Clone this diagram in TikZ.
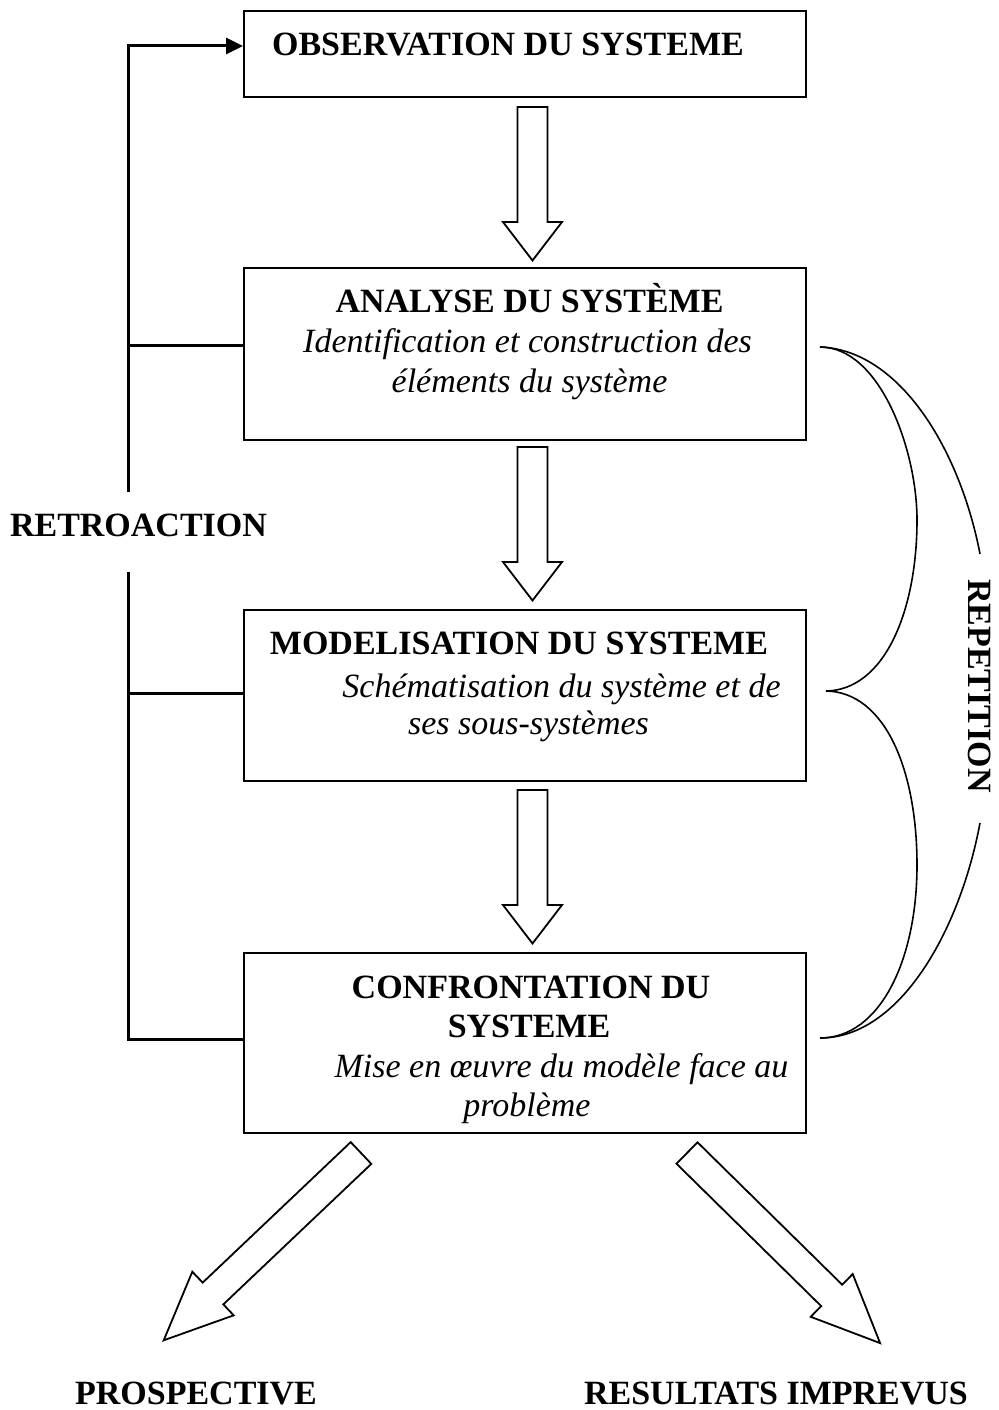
\documentclass[tikz,border=0pt]{standalone}
\usepackage{fontspec}
\setmainfont{Liberation Serif}
\usetikzlibrary{arrows.meta}
\begin{document}
\begin{tikzpicture}[x=1pt,y=-1pt,
  box/.style={draw, line width=2pt, minimum width=562pt, inner sep=0pt},
  bt/.style={font=\fontsize{34}{40}\selectfont\bfseries, anchor=base, inner sep=0pt},
  it/.style={font=\fontsize{34}{40}\selectfont\itshape, anchor=base, inner sep=0pt},
  fb/.style={line width=3pt, line join=miter},
  hollow/.style={draw, line width=1.8pt, fill=white, line join=miter},
  brace/.style={line width=1.6pt},
  downarrow/.pic={\draw[hollow] (-15,0) -- (-15,115) -- (-29.5,115) -- (0,153.5) -- (29.5,115) -- (15,115) -- (15,0) -- cycle;}
]
\useasboundingbox (0,0) rectangle (998,1410);

% boxes
\node[box, minimum height=86pt]  (obs) at (525,54) {};
\node[box, minimum height=172pt] (ana) at (525,354) {};
\node[box, minimum height=171pt] (mod) at (525,695.5) {};
\node[box, minimum height=180pt] (con) at (525,1043) {};

% texts in boxes
\node[bt] (tobs) at (508,56) {OBSERVATION DU SYSTEME};
\node[bt] (tana) at (529.5,312) {ANALYSE DU SYSTÈME};
\node[it] (tana1) at (527.5,352) {Identification et construction des};
\node[it] (tana2) at (529.5,392) {éléments du système};
\node[bt] (tmod) at (519,654) {MODELISATION DU SYSTEME};
\node[it] (tmod1) at (561.5,697) {Schématisation du système et de};
\node[it] (tmod2) at (528.5,734) {ses sous-systèmes};
\node[bt] (tcon) at (531,998) {CONFRONTATION DU};
\node[bt] (tcon2) at (529,1037) {SYSTEME};
\node[it] (tcon3) at (561.5,1077) {Mise en œuvre du modèle face au};
\node[it] (tcon4) at (527,1116) {problème};

% outer labels
\node[bt] (retro) at (138.5,536) {RETROACTION};
\node[bt] (prosp) at (196,1404) {PROSPECTIVE};
\node[bt] (resul) at (776,1404) {RESULTATS IMPREVUS};
\node[font=\fontsize{34}{40}\selectfont\bfseries, inner sep=0pt, rotate=-90] (rep) at (979.5,686) {REPETITION};

% hollow vertical arrows
\pic at (532.5,107) {downarrow};
\pic at (532.5,447) {downarrow};
\pic at (532.5,790) {downarrow};

% diagonal hollow arrows
\draw[hollow] (371.3,1163.9) -- (223.3,1304.4) -- (233.7,1315.3) -- (163.7,1340.3)
  -- (192.3,1271.7) -- (202.7,1282.6) -- (350.7,1142.1) -- cycle;
\draw[hollow] (697.5,1142.3) -- (842.2,1284.7) -- (852.7,1274.0) -- (880.1,1343.1)
  -- (810.7,1316.8) -- (821.2,1306.1) -- (676.5,1163.7) -- cycle;

% feedback (retroaction)
\coordinate (fbTop) at (128,46);
\coordinate (fbA) at (128,492);
\coordinate (fbB) at (128,572);
\coordinate (b1) at (128,345);
\coordinate (b2) at (128,693);
\coordinate (b3) at (128,1039);
\draw[fb, -{Triangle[length=17pt,width=16pt]}] (fbA) -- (fbTop) -- (fbTop -| obs.west);
\draw[fb] (fbB) -- (b3) -- (b3 -| con.west);
\draw[fb] (b1) -- (b1 -| ana.west);
\draw[fb] (b2) -- (b2 -| mod.west);

% repetition braces
\coordinate (r1) at (820,347);
\coordinate (r2) at (826,691);
\coordinate (r3) at (820,1038);
\coordinate (o1) at (980,554);
\coordinate (o2) at (980,823);
\draw[brace] (r1) .. controls (880,347) and (917,450) .. (917,520)
  .. controls (917,610) and (885,690) .. (r2);
\draw[brace] (r2) .. controls (885,692) and (917,770) .. (917,865)
  .. controls (917,960) and (880,1038) .. (r3);
\draw[brace] (r1) .. controls (900,350) and (960,450) .. (o1);
\draw[brace] (o2) .. controls (960,930) and (900,1038) .. (r3);
\end{tikzpicture}
\end{document}
